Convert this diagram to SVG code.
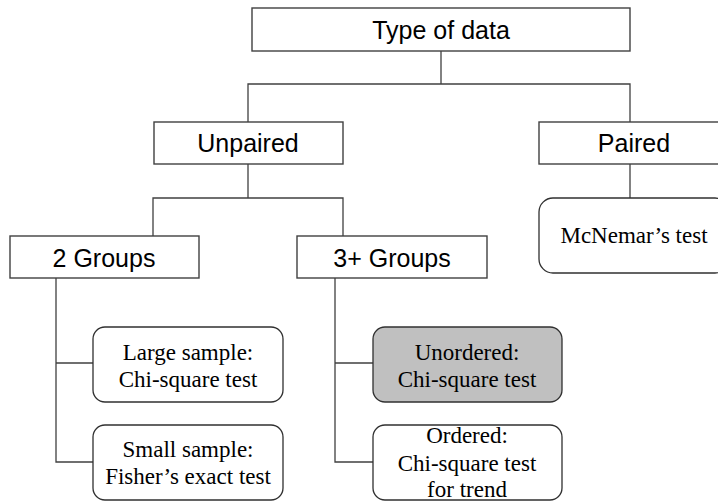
<svg xmlns="http://www.w3.org/2000/svg" width="718" height="501" viewBox="0 0 718 501">
<style>
.box{fill:#fff;stroke:#404040;stroke-width:1.4}
.test{fill:#fff;stroke:#303030;stroke-width:1.3}
.hl{fill:#c0c0c0}
.sans{font-family:"Liberation Sans",Arial,sans-serif;font-size:25px;fill:#000;text-anchor:middle}
.serif{font-family:"Liberation Serif","Times New Roman",serif;font-size:23px;fill:#000;text-anchor:middle}
.conn{fill:none;stroke:#404040;stroke-width:1.3}
</style>
<rect width="718" height="501" fill="#fff"/>
<g id="connectors">
<path class="conn" d="M441,51 V84 M248,122 V84 H630 V122"/>
<path class="conn" d="M248,164 V198 M153,236 V198 H343 V236"/>
<path class="conn" d="M630,164 V198"/>
<path class="conn" d="M56,278 V462 H93 M56,363 H93"/>
<path class="conn" d="M335,278 V462 H373 M335,363 H373"/>
</g>
<g id="type-of-data">
<rect class="box" x="252" y="8" width="378" height="43"/>
<text class="sans" x="441" y="39">Type of data</text>
</g>
<g id="unpaired">
<rect class="box" x="154" y="122" width="189" height="42"/>
<text class="sans" x="248" y="152">Unpaired</text>
</g>
<g id="paired">
<rect class="box" x="539" y="122" width="190" height="42"/>
<text class="sans" x="634" y="152">Paired</text>
</g>
<g id="mcnemar">
<rect class="test" x="539" y="198" width="190" height="75" rx="14"/>
<text class="serif" x="634" y="243">McNemar’s test</text>
</g>
<g id="two-groups">
<rect class="box" x="10" y="236" width="189" height="42"/>
<text class="sans" x="104" y="267">2 Groups</text>
</g>
<g id="three-groups">
<rect class="box" x="297" y="236" width="190" height="42"/>
<text class="sans" x="392" y="267">3+ Groups</text>
</g>
<g id="large-sample">
<rect class="test" x="93" y="327" width="190" height="75" rx="12"/>
<text class="serif" x="188" y="360">Large sample:</text>
<text class="serif" x="188" y="387">Chi-square test</text>
</g>
<g id="small-sample">
<rect class="test" x="93" y="425" width="190" height="75" rx="12"/>
<text class="serif" x="188" y="457">Small sample:</text>
<text class="serif" x="188" y="484">Fisher’s exact test</text>
</g>
<g id="unordered">
<rect class="test hl" x="373" y="327" width="189" height="75" rx="12"/>
<text class="serif" x="467" y="360">Unordered:</text>
<text class="serif" x="467" y="387">Chi-square test</text>
</g>
<g id="ordered">
<rect class="test" x="373" y="425" width="189" height="75" rx="12"/>
<text class="serif" x="467" y="443">Ordered:</text>
<text class="serif" x="467" y="471">Chi-square test</text>
<text class="serif" x="467" y="497">for trend</text>
</g>
</svg>
